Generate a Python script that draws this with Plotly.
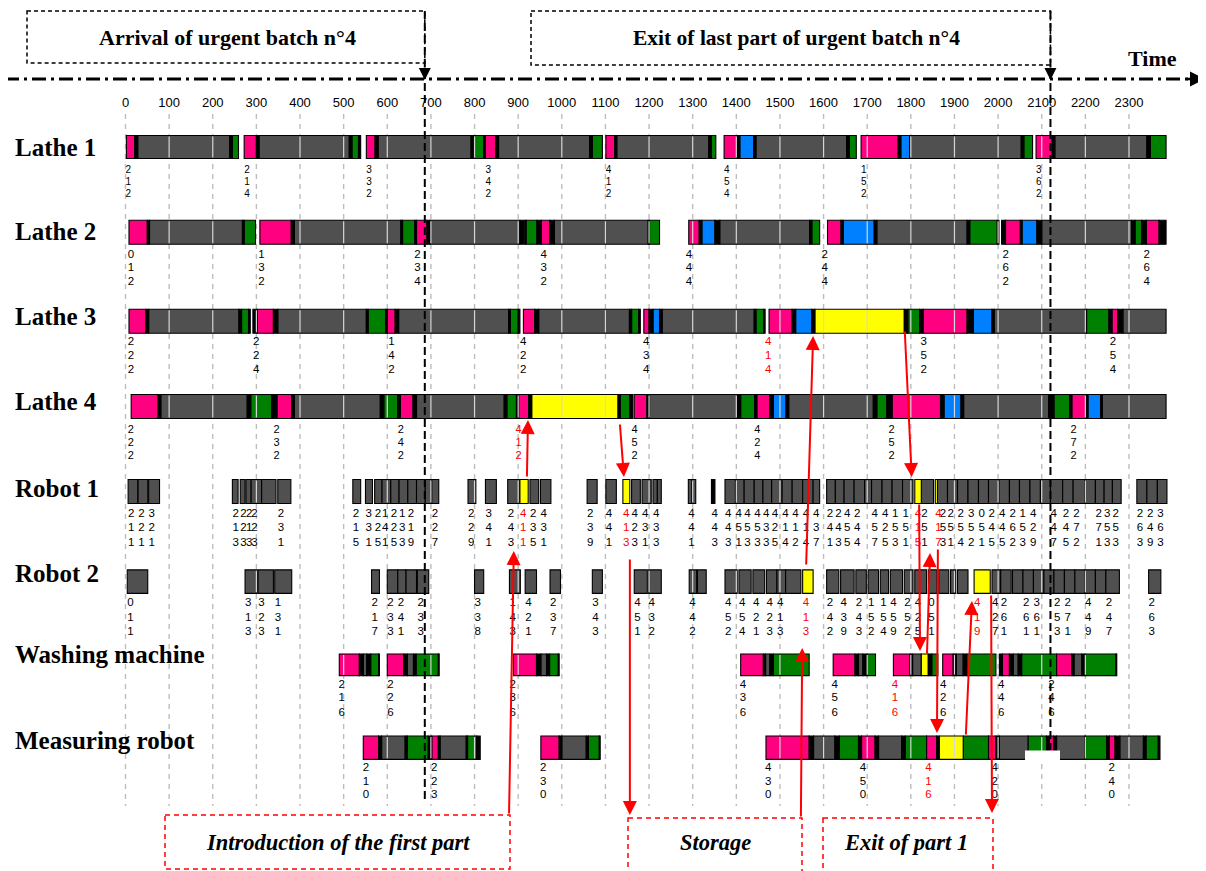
import plotly.graph_objects as go

# ---------------- data ----------------
TICKS = list(range(0, 2400, 100))
ARRIVAL_T = 686      # arrival of urgent batch n°4
EXIT_T = 2120        # exit of last part of urgent batch n°4

ROW_NAMES = ["Lathe 1", "Lathe 2", "Lathe 3", "Lathe 4", "Robot 1", "Robot 2",
             "Washing machine", "Measuring robot"]

# segments: (start, end, state)  P=pink G=gray N=green B=blue Y=yellow K=black
LATHE1 = [(2,21,'P'),(21,28,'K'),(28,239,'G'),(239,245,'K'),(245,259,'N'),
          (272,300,'P'),(300,306,'K'),(306,513,'G'),(513,519,'K'),(519,534,'N'),(534,539,'K'),
          (552,572,'P'),(572,579,'K'),(579,792,'G'),(792,797,'K'),(797,821,'N'),(821,825,'K'),
          (825,849,'P'),(849,855,'K'),(855,1064,'G'),(1064,1070,'K'),(1070,1093,'N'),
          (1101,1121,'P'),(1121,1126,'K'),(1126,1337,'G'),(1337,1343,'K'),(1343,1353,'N'),
          (1372,1402,'P'),(1402,1408,'K'),(1408,1440,'B'),(1440,1445,'K'),(1445,1653,'G'),(1653,1659,'K'),(1659,1675,'N'),
          (1686,1771,'P'),(1771,1777,'K'),(1777,1797,'B'),(1797,2053,'G'),(2053,2059,'K'),(2059,2079,'N'),
          (2087,2124,'P'),(2124,2130,'K'),(2130,2341,'G'),(2341,2349,'K'),(2349,2385,'N')]
LATHE2 = [(8,50,'P'),(50,55,'K'),(55,268,'G'),(268,272,'K'),(272,298,'N'),
          (308,380,'P'),(380,387,'K'),(387,631,'G'),(631,635,'K'),(635,663,'N'),(663,667,'K'),
          (667,691,'P'),(691,698,'K'),(698,904,'G'),(904,912,'K'),
          (914,918,'K'),(918,943,'N'),(943,953,'K'),(953,973,'P'),(973,983,'K'),(983,1198,'G'),(1198,1201,'K'),(1201,1224,'N'),
          (1291,1315,'P'),(1315,1321,'K'),(1321,1351,'B'),(1351,1362,'K'),(1362,1568,'G'),(1568,1573,'K'),(1573,1591,'N'),
          (1609,1640,'P'),(1640,1645,'K'),(1645,1716,'B'),(1716,1722,'K'),(1722,1929,'G'),(1929,1935,'K'),(1935,1998,'N'),(1998,2002,'K'),
          (2008,2017,'K'),(2017,2051,'P'),(2051,2055,'K'),(2055,2089,'B'),(2089,2100,'K'),(2100,2306,'G'),(2306,2314,'K'),
          (2314,2329,'N'),(2329,2340,'K'),(2340,2369,'P'),(2369,2385,'K')]
LATHE3 = [(8,47,'P'),(47,53,'K'),(53,260,'G'),(260,266,'K'),(266,282,'N'),(282,286,'K'),
          (292,302,'K'),(302,339,'P'),(339,349,'K'),(349,552,'G'),(552,556,'K'),(556,596,'N'),(596,600,'K'),
          (600,618,'P'),(618,626,'K'),(626,878,'G'),(878,882,'K'),(882,900,'N'),(900,904,'K'),
          (912,938,'P'),(938,947,'K'),(947,1155,'G'),(1155,1160,'K'),(1160,1176,'N'),(1176,1180,'K'),
          (1188,1200,'P'),(1200,1209,'K'),(1209,1224,'B'),(1224,1230,'K'),(1230,1441,'G'),(1441,1445,'K'),(1445,1463,'N'),(1463,1466,'K'),
          (1475,1528,'P'),(1528,1536,'K'),(1536,1573,'B'),(1573,1580,'K'),(1580,1785,'Y'),(1785,1793,'K'),(1793,1820,'N'),
          (1820,1828,'K'),(1828,1929,'P'),(1929,1943,'K'),(1943,1986,'B'),(1986,1991,'K'),(1991,2203,'G'),(2203,2254,'N'),
          (2254,2261,'K'),(2261,2274,'P'),(2274,2286,'K'),(2286,2385,'G')]
LATHE4 = [(13,75,'P'),(75,81,'K'),(81,279,'G'),(279,287,'K'),(287,335,'N'),(335,347,'K'),(347,381,'P'),(381,387,'K'),
          (387,584,'G'),(584,592,'K'),(592,624,'N'),(624,630,'K'),(630,659,'P'),(659,667,'K'),(667,868,'G'),(868,874,'K'),
          (874,896,'N'),(896,901,'K'),(901,924,'P'),(924,931,'K'),(931,1129,'Y'),(1129,1134,'K'),(1134,1156,'N'),(1156,1163,'K'),
          (1166,1195,'P'),(1195,1201,'K'),(1201,1402,'G'),(1402,1410,'K'),(1410,1442,'N'),(1442,1447,'K'),(1447,1477,'P'),
          (1477,1485,'K'),(1485,1514,'B'),(1514,1520,'K'),(1520,1714,'G'),(1714,1722,'K'),(1722,1745,'N'),(1745,1757,'K'),
          (1757,1868,'P'),(1868,1876,'K'),(1876,1915,'B'),(1915,1921,'K'),(1921,2116,'G'),(2116,2128,'K'),(2128,2164,'N'),
          (2164,2169,'K'),(2169,2201,'P'),(2201,2206,'K'),(2206,2235,'B'),(2235,2239,'K'),(2239,2385,'G')]
ROBOT1 = [(6,28,'G'),(29,51,'G'),(53,78,'G'),
          (245,258,'G'),(263,274,'G'),(276,288,'G'),(288,312,'G'),(312,345,'G'),(349,379,'G'),
          (521,539,'G'),(550,566,'G'),(571,588,'G'),(588,608,'G'),(608,627,'G'),(627,647,'G'),(647,667,'G'),
          (667,687,'G'),(687,702,'G'),(702,718,'G'),
          (785,803,'G'),(825,850,'G'),(876,904,'G'),(904,923,'Y'),(927,947,'G'),(951,975,'G'),
          (1058,1081,'G'),(1101,1125,'G'),(1140,1156,'Y'),(1160,1180,'G'),(1184,1205,'G'),(1209,1219,'G'),(1219,1228,'G'),
          (1290,1298,'G'),(1299,1307,'G'),(1343,1351,'K'),
          (1374,1398,'G'),(1398,1418,'G'),(1418,1441,'G'),(1441,1461,'G'),(1461,1481,'G'),(1481,1505,'G'),(1505,1528,'G'),
          (1528,1552,'G'),(1552,1576,'G'),(1576,1591,'G'),
          (1607,1627,'G'),(1627,1647,'G'),(1647,1670,'G'),(1670,1694,'G'),(1694,1710,'G'),(1710,1734,'G'),(1734,1757,'G'),
          (1757,1781,'G'),(1781,1805,'G'),(1809,1824,'Y'),(1824,1852,'G'),(1856,1861,'Y'),(1861,1884,'G'),(1884,1907,'G'),
          (1907,1931,'G'),(1931,1955,'G'),(1955,1978,'G'),(1978,2002,'G'),(2002,2026,'G'),(2026,2049,'G'),(2049,2073,'G'),
          (2073,2097,'G'),(2097,2120,'G'),(2120,2148,'G'),(2148,2172,'G'),(2172,2199,'G'),(2199,2223,'G'),(2223,2243,'G'),
          (2243,2262,'G'),(2262,2282,'G'),
          (2318,2341,'G'),(2341,2365,'G'),(2365,2387,'G')]
ROBOT2 = [(4,51,'G'),(274,302,'G'),(304,339,'G'),(342,381,'G'),(564,582,'G'),(600,624,'G'),(624,643,'G'),(643,667,'G'),
          (669,695,'G'),(800,821,'G'),(880,905,'G'),(916,942,'G'),(973,997,'G'),(1070,1093,'G'),(1166,1196,'G'),(1199,1228,'G'),
          (1292,1309,'G'),(1311,1331,'G'),
          (1374,1402,'G'),(1406,1434,'G'),(1438,1465,'G'),(1469,1493,'G'),(1493,1513,'G'),(1513,1548,'G'),(1552,1576,'Y'),
          (1607,1635,'G'),(1639,1670,'G'),(1674,1698,'G'),(1702,1726,'G'),(1730,1749,'G'),(1753,1781,'G'),(1785,1805,'G'),
          (1809,1836,'G'),(1840,1860,'G'),(1864,1887,'G'),(1891,1903,'G'),(1907,1931,'G'),(1945,1982,'Y'),(1986,2006,'G'),
          (2006,2030,'G'),(2033,2057,'G'),(2057,2081,'G'),(2081,2105,'G'),(2105,2128,'G'),(2128,2152,'G'),(2152,2176,'G'),
          (2176,2199,'G'),(2199,2223,'G'),(2223,2247,'G'),(2247,2278,'G'),(2345,2373,'G')]
WASHING = [(490,536,'P'),(536,545,'K'),(545,553,'G'),(553,562,'K'),(562,580,'N'),(580,582,'K'),
           (600,638,'P'),(638,646,'K'),(646,660,'G'),(660,666,'K'),(666,717,'N'),(717,719,'K'),
           (889,942,'P'),(942,952,'K'),(952,965,'G'),(965,972,'K'),(972,992,'N'),(992,994,'K'),
           (1410,1462,'P'),(1462,1467,'K'),(1467,1477,'G'),(1477,1485,'K'),(1485,1567,'N'),
           (1622,1672,'P'),(1672,1680,'K'),(1680,1690,'G'),(1690,1699,'K'),(1699,1719,'N'),
           (1760,1798,'P'),(1798,1804,'K'),(1804,1824,'G'),(1824,1840,'Y'),(1840,1848,'K'),(1848,1862,'N'),
           (1873,1897,'P'),(1897,1904,'K'),(1904,1920,'G'),(1920,1928,'K'),(1928,1995,'N'),
           (2003,2010,'K'),(2010,2026,'P'),(2026,2035,'K'),(2035,2046,'G'),(2046,2054,'K'),(2054,2134,'N'),
           (2134,2169,'P'),(2169,2174,'K'),(2174,2192,'G'),(2192,2199,'K'),(2199,2270,'N'),(2270,2272,'K')]
MEASURING = [(545,580,'P'),(580,587,'K'),(587,641,'G'),(641,646,'K'),(646,694,'N'),(694,702,'K'),(702,717,'P'),
             (717,721,'K'),(721,781,'G'),(781,784,'K'),(784,805,'N'),(805,813,'K'),
             (952,994,'P'),(994,1000,'K'),(1000,1056,'G'),(1056,1061,'K'),(1061,1086,'N'),(1086,1088,'K'),
             (1468,1567,'P'),(1567,1577,'K'),(1577,1626,'G'),(1626,1636,'K'),(1636,1680,'N'),(1680,1687,'K'),
             (1687,1718,'P'),(1718,1726,'K'),(1726,1779,'G'),(1779,1787,'K'),(1787,1836,'N'),(1836,1859,'P'),
             (1859,1865,'K'),(1865,1920,'Y'),(1920,1978,'N'),(1978,1995,'P'),(1995,2003,'K'),
             (2003,2069,'G'),(2069,2111,'N'),(2111,2117,'K'),(2117,2127,'P'),(2127,2134,'K'),(2134,2199,'G'),
             (2199,2249,'N'),(2249,2255,'K'),(2255,2268,'P'),(2268,2279,'K'),(2279,2333,'G'),(2333,2339,'K'),
             (2339,2367,'N'),(2367,2371,'K')]

# part labels (time, batch/part/op digits, red?)
LAB_L1 = [(0,"212",0),(272,"214",0),(552,"332",0),(825,"342",0),(1101,"412",0),(1372,"454",0),(1686,"152",0),(2087,"362",0)]
LAB_L2 = [(5,"012",0),(304,"132",0),(662,"234",0),(951,"432",0),(1284,"444",0),(1595,"244",0),(2010,"262",0),(2333,"264",0)]
LAB_L3 = [(5,"222",0),(292,"224",0),(602,"142",0),(904,"422",0),(1186,"434",0),(1466,"414",1),(1822,"352",0),(2256,"254",0)]
LAB_L4 = [(5,"222",0),(339,"232",0),(624,"242",0),(894,"412",1),(1160,"452",0),(1441,"424",0),(1749,"252",0),(2166,"272",0)]
LAB_R1 = [(6,"211",0),(29,"221",0),(53,"321",0),
          (245,"213",0),(263,"223",0),(276,"213",0),(288,"223",0),(349,"231",0),
          (521,"215",0),(550,"331",0),(571,"225",0),(588,"141",0),(608,"225",0),(627,"133",0),(647,"219",0),(702,"227",0),
          (785,"229",0),(825,"341",0),(876,"243",0),(904,"411",1),(927,"235",0),(951,"431",0),
          (1058,"239",0),(1101,"441",0),(1140,"413",1),(1160,"423",0),(1184,"431",0),(1209,"433",0),
          (1290,"441",0),(1343,"443",0),
          (1374,"443",0),(1398,"451",0),(1418,"453",0),(1441,"453",0),(1461,"433",0),(1481,"425",0),(1505,"414",0),
          (1528,"412",0),(1552,"414",0),(1576,"437",0),
          (1607,"241",0),(1627,"243",0),(1647,"455",0),(1670,"244",0),(1710,"457",0),(1734,"425",0),(1757,"153",0),
          (1781,"151",0),(1809,"415",1),(1824,"251",0),(1856,"417",1),(1866,"253",0),(1884,"251",0),(1907,"254",0),
          (1931,"352",0),(1955,"051",0),(1978,"245",0),(2002,"445",0),(2026,"262",0),(2049,"153",0),(2073,"429",0),
          (2120,"447",0),(2148,"245",0),(2172,"272",0),(2223,"271",0),(2243,"353",0),(2262,"253",0),
          (2318,"263",0),(2341,"249",0),(2365,"363",0)]
LAB_R2 = [(4,"011",0),(274,"313",0),(304,"323",0),(342,"131",0),(564,"217",0),(600,"233",0),(624,"241",0),(669,"233",0),
          (800,"338",0),(880,"143",0),(916,"421",0),(973,"237",0),(1070,"343",0),(1166,"451",0),(1199,"432",0),(1292,"442",0),
          (1374,"452",0),(1406,"454",0),(1438,"421",0),(1469,"423",0),(1493,"413",0),(1552,"413",1),
          (1607,"242",0),(1639,"439",0),(1674,"243",0),(1702,"152",0),(1730,"154",0),(1753,"459",0),(1785,"252",0),
          (1809,"425",0),(1840,"051",0),(1945,"419",1),(1986,"427",0),(2006,"261",0),(2057,"261",0),(2081,"361",0),
          (2128,"253",0),(2152,"271",0),(2199,"449",0),(2247,"247",0),(2345,"263",0)]
LAB_WM = [(488,"216",0),(600,"226",0),(880,"236",0),(1408,"436",0),(1618,"456",0),(1756,"416",1),(1867,"426",0),
          (2000,"446",0),(2115,"246",0)]
LAB_MR = [(544,"210",0),(700,"223",0),(950,"230",0),(1466,"430",0),(1683,"450",0),(1833,"416",1),(1985,"420",0),
          (2253,"240",0)]

SEGMENTS = [LATHE1, LATHE2, LATHE3, LATHE4, ROBOT1, ROBOT2, WASHING, MEASURING]
LABELS = [LAB_L1, LAB_L2, LAB_L3, LAB_L4, LAB_R1, LAB_R2, LAB_WM, LAB_MR]

# red flow arrows of urgent part 1 : (tail time, tail y, head time, head y)
ARROWS = [(879, 815, 890, 551), (920, 478, 922.5, 420), (1133, 423, 1142.5, 477), (1156, 558, 1156, 815),
          (1548, 818, 1551, 648), (1560, 566, 1576, 336), (1786, 330, 1802, 477), (1819, 503, 1821, 651),
          (1837, 655, 1844, 553), (1862, 548, 1860, 733), (1926, 736, 1940, 601), (1984, 594, 1986, 813)]

# ---------------- layout geometry (page pixels) ----------------
PAGE_W, PAGE_H = 1206, 871
OFF = 8                      # default page margin around the figure
W, H = PAGE_W - OFF, PAGE_H - OFF
X0PX, PXT = 125.5, 0.4363
def tx(px):
    return (px - X0PX) / PXT

ROW_Y = [147, 232.3, 321.2, 406.5, 491.5, 581.6, 664.8, 747.7]
ROW_H = [23, 24, 24, 24, 24, 23.5, 21.7, 23.3]
ROW_LAB_Y = [[170.5, 182.5, 194.5], [254.8, 268.5, 282.3], [342.6, 356.4, 370], [430, 443.7, 455.8],
             [514, 528.5, 543], [603.6, 618, 631.8], [685, 698.3, 712.7], [768.3, 781.7, 795]]
ROW_LAB_SIZE = [10, 11.5, 11.5, 11, 11.5, 11.5, 11.5, 11.5]
ROW_NAME_Y = [147, 231, 316, 401, 488, 573, 654, 740]

COLORS = {'P': '#FF0080', 'G': '#505050', 'N': '#008000', 'B': '#0080FF', 'Y': '#FFFF00', 'K': '#000000'}

fig = go.Figure()

for code, col in COLORS.items():
    ys, bases, xs, ws = [], [], [], []
    for r, segs in enumerate(SEGMENTS):
        for s, e, c in segs:
            if c == code:
                ys.append(ROW_Y[r]); bases.append(s); xs.append(e - s); ws.append(ROW_H[r])
    if ys:
        fig.add_trace(go.Bar(orientation='h', y=ys, x=xs, base=bases, width=ws,
                             marker=dict(color=col, line=dict(color='black', width=1.1)),
                             showlegend=False, hoverinfo='skip'))

gx, gy = [], []
for r, segs in enumerate(SEGMENTS):
    for t in TICKS:
        if any(s < t < e for s, e, c in segs):
            gx += [t, t, None]
            gy += [ROW_Y[r] - ROW_H[r] / 2 + 1, ROW_Y[r] + ROW_H[r] / 2 - 1, None]
fig.add_trace(go.Scatter(x=gx, y=gy, mode='lines', line=dict(color='#d6d6d6', width=1.2),
                         showlegend=False, hoverinfo='skip'))

fig.add_trace(go.Scatter(x=TICKS, y=[104] * len(TICKS), text=[str(t) for t in TICKS], mode='text',
                         textfont=dict(family='Liberation Sans', size=13, color='black'),
                         showlegend=False, hoverinfo='skip'))

for r, labs in enumerate(LABELS):
    for red in (0, 1):
        lx, ly, lt = [], [], []
        for t, s, rr in labs:
            if rr != red:
                continue
            for i, ch in enumerate(s):
                lx.append(t); ly.append(ROW_LAB_Y[r][i]); lt.append(ch)
        if lx:
            fig.add_trace(go.Scatter(x=lx, y=ly, text=lt, mode='text', textposition='middle right',
                                     textfont=dict(family='Liberation Sans', size=ROW_LAB_SIZE[r],
                                                   color='#FF0000' if red else 'black'),
                                     showlegend=False, hoverinfo='skip'))

shapes = []
for t in TICKS:
    shapes.append(dict(type='line', xref='x', yref='y', x0=t, x1=t, y0=114, y1=806, layer='below',
                       line=dict(color='#bdbdbd', width=1.4, dash='5px,5px')))
shapes.append(dict(type='rect', xref='x', yref='y', x0=tx(1025), x1=tx(1060), y0=750.5, y1=762,
                   fillcolor='white', line=dict(width=0), layer='above'))
shapes.append(dict(type='line', xref='x', yref='y', x0=tx(5), x1=tx(1192), y0=79, y1=79,
                   line=dict(color='black', width=3, dash='14px,5px,3px,5px')))
shapes.append(dict(type='rect', xref='x', yref='y', x0=tx(27), x1=ARRIVAL_T, y0=11, y1=63,
                   line=dict(color='black', width=1.5, dash='4px,3px')))
shapes.append(dict(type='rect', xref='x', yref='y', x0=tx(531), x1=EXIT_T, y0=11, y1=65,
                   line=dict(color='black', width=1.5, dash='4px,3px')))
shapes.append(dict(type='line', xref='x', yref='y', x0=ARRIVAL_T, x1=ARRIVAL_T, y0=11, y1=802,
                   line=dict(color='black', width=2, dash='8px,4px')))
shapes.append(dict(type='line', xref='x', yref='y', x0=EXIT_T, x1=EXIT_T, y0=11, y1=750,
                   line=dict(color='black', width=2, dash='8px,4px')))
for a, b, y0, y1 in [(165, 510, 815, 869), (628, 802, 818, 880), (823, 993, 818, 880)]:
    shapes.append(dict(type='rect', xref='x', yref='y', x0=tx(a), x1=tx(b), y0=y0, y1=y1,
                       line=dict(color='#FF0000', width=1.5, dash='5px,4px')))

ann = []
serif = 'Liberation Serif'
for name, y in zip(ROW_NAMES, ROW_NAME_Y):
    ann.append(dict(x=tx(13), y=y, xref='x', yref='y', text='<b>' + name + '</b>', showarrow=False,
                    xanchor='left', yanchor='middle', font=dict(family=serif, size=25, color='black')))
ann.append(dict(x=tx(227), y=37, xref='x', yref='y', text='<b>Arrival of urgent batch n°4</b>', showarrow=False,
                font=dict(family=serif, size=22, color='black')))
ann.append(dict(x=tx(796), y=38, xref='x', yref='y', text='<b>Exit of last part of urgent batch n°4</b>',
                showarrow=False, font=dict(family=serif, size=21.5, color='black')))
ann.append(dict(x=tx(1152), y=58, xref='x', yref='y', text='<b>Time</b>', showarrow=False,
                font=dict(family=serif, size=22, color='black')))
for txt, cx in [('Introduction of the first part', 338), ('Storage', 715), ('Exit of part 1', 906)]:
    ann.append(dict(x=tx(cx), y=842, xref='x', yref='y', text='<b><i>' + txt + '</i></b>', showarrow=False,
                    font=dict(family=serif, size=22.5, color='black')))
ann.append(dict(x=tx(1205), y=79, ax=tx(1185), ay=79, xref='x', yref='y', axref='x', ayref='y', text='',
                showarrow=True, arrowhead=2, arrowsize=1.2, arrowwidth=2.5, arrowcolor='black'))
for t in (ARRIVAL_T, EXIT_T):
    ann.append(dict(x=t, y=80, ax=t, ay=66, xref='x', yref='y', axref='x', ayref='y', text='',
                    showarrow=True, arrowhead=2, arrowsize=1.2, arrowwidth=2, arrowcolor='black'))
for t0, y0, t1, y1 in ARROWS:
    ann.append(dict(x=t1, y=y1, ax=t0, ay=y0, xref='x', yref='y', axref='x', ayref='y', text='',
                    showarrow=True, arrowhead=2, arrowsize=1.4, arrowwidth=2, arrowcolor='#FF0000', standoff=0))

fig.update_layout(width=W, height=H, margin=dict(l=0, r=0, t=0, b=0), barmode='overlay',
                  paper_bgcolor='white', plot_bgcolor='white', showlegend=False,
                  shapes=shapes, annotations=ann,
                  xaxis=dict(range=[tx(OFF), tx(PAGE_W)], visible=False, fixedrange=True),
                  yaxis=dict(range=[PAGE_H, OFF], visible=False, fixedrange=True))
fig.write_html("out.html")
